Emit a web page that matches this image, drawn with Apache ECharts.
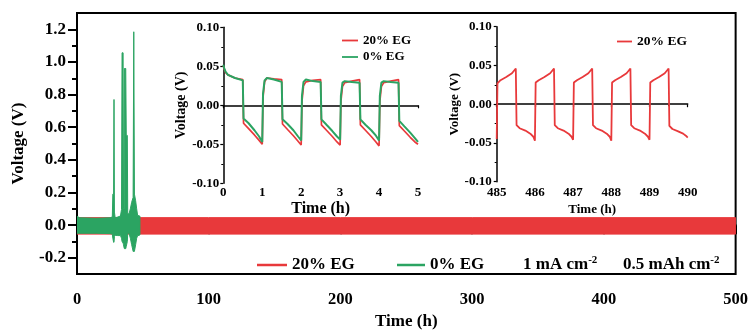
<!DOCTYPE html>
<html><head><meta charset="utf-8">
<script src="https://cdn.jsdelivr.net/npm/echarts@6/dist/echarts.min.js"></script>
<style>html,body{margin:0;padding:0;background:#fff}#c{width:751px;height:335px}</style>
</head><body><div id="c"></div>
<script>
// ---------- data ----------
// main panel: envelope (upper / lower extremes) of the dense charge-discharge trace
const redEnvTime  = [0, 100, 200, 300, 400, 500];
const redEnvUpper = [0.046, 0.046, 0.046, 0.046, 0.046, 0.046];
const redEnvLower = [-0.055, -0.055, -0.055, -0.055, -0.055, -0.055];

const greenEnvTime  = [0, 2, 15, 25, 26.8, 27.2, 27.8, 28.1, 28.4, 29.0, 31, 33, 33.8, 34.2, 35.0, 35.3, 35.8, 36.0, 37.0, 37.4, 38.2, 38.5, 39.5, 40.5, 41.5, 42.6, 43.1, 43.6, 44.5, 45.3, 46.0, 47.8];
const greenEnvUpper = [0.055, 0.045, 0.042, 0.045, 0.05, 0.19, 0.19, 0.77, 0.08, 0.045, 0.05, 0.056, 0.096, 1.056, 1.056, 0.1, 0.1, 0.96, 0.96, 0.55, 0.55, 0.068, 0.07, 0.1, 0.14, 0.17, 1.185, 0.19, 0.15, 0.1, 0.06, 0.055];
const greenEnvLower = [-0.05, -0.05, -0.05, -0.052, -0.055, -0.08, -0.105, -0.105, -0.07, -0.062, -0.064, -0.064, -0.08, -0.1, -0.11, -0.12, -0.14, -0.144, -0.144, -0.13, -0.1, -0.05, -0.05, -0.08, -0.12, -0.16, -0.164, -0.16, -0.12, -0.08, -0.065, -0.06];

const mainYLabels = [-0.2, 0.0, 0.2, 0.4, 0.6, 0.8, 1.0, 1.2];
const mainYMinor  = [-0.1, 0.1, 0.3, 0.5, 0.7, 0.9, 1.1];

// inset 1: 0-5 h
const inset1Time = [
  0, 0.02, 0.06, 0.12, 0.3, 0.5, 0.52, 0.65, 0.8, 0.92,
  1.0, 1.02, 1.06, 1.12, 1.3, 1.5, 1.52, 1.65, 1.8, 1.92,
  2.0, 2.02, 2.06, 2.12, 2.3, 2.5, 2.52, 2.65, 2.8, 2.92,
  3.0, 3.02, 3.06, 3.12, 3.3, 3.5, 3.52, 3.65, 3.8, 3.92,
  4.0, 4.02, 4.06, 4.12, 4.3, 4.5, 4.52, 4.65, 4.8, 4.92,
  5.0];
const inset1Red = [
  0.051, 0.047, 0.042, 0.039, 0.035, 0.033, -0.023, -0.030, -0.038, -0.045,
  -0.050, 0.010, 0.030, 0.035, 0.034, 0.033, -0.024, -0.031, -0.039, -0.046,
  -0.051, 0.005, 0.025, 0.030, 0.032, 0.033, -0.025, -0.032, -0.040, -0.047,
  -0.051, 0.005, 0.024, 0.029, 0.031, 0.033, -0.025, -0.032, -0.040, -0.047,
  -0.052, 0.005, 0.024, 0.029, 0.031, 0.033, -0.026, -0.033, -0.041, -0.047,
  -0.050];
const inset1Green = [
  0.052, 0.048, 0.043, 0.039, 0.035, 0.032, -0.017, -0.023, -0.032, -0.040,
  -0.047, 0.015, 0.032, 0.035, 0.033, 0.030, -0.018, -0.024, -0.032, -0.040,
  -0.045, 0.012, 0.030, 0.033, 0.031, 0.030, -0.018, -0.025, -0.033, -0.040,
  -0.044, 0.012, 0.029, 0.031, 0.030, 0.029, -0.018, -0.025, -0.032, -0.039,
  -0.045, 0.012, 0.029, 0.031, 0.030, 0.029, -0.020, -0.027, -0.035, -0.042,
  -0.047];

// inset 2: 485-490 h
const inset2Time = [
  485, 485.02, 485.1, 485.25, 485.4, 485.5, 485.52, 485.6, 485.75, 485.88, 485.96,
  486, 486.02, 486.1, 486.25, 486.4, 486.5, 486.52, 486.6, 486.75, 486.88, 486.96,
  487, 487.02, 487.1, 487.25, 487.4, 487.5, 487.52, 487.6, 487.75, 487.88, 487.96,
  488, 488.02, 488.1, 488.25, 488.4, 488.5, 488.52, 488.6, 488.75, 488.88, 488.96,
  489, 489.02, 489.1, 489.25, 489.4, 489.5, 489.52, 489.6, 489.75, 489.88, 489.96,
  490];
const inset2Red = [
  -0.045, 0.027, 0.031, 0.035, 0.040, 0.046, -0.027, -0.031, -0.034, -0.038, -0.042,
  -0.047, 0.028, 0.031, 0.035, 0.040, 0.046, -0.027, -0.031, -0.034, -0.038, -0.042,
  -0.046, 0.028, 0.031, 0.035, 0.040, 0.046, -0.027, -0.031, -0.034, -0.038, -0.042,
  -0.047, 0.028, 0.031, 0.035, 0.040, 0.046, -0.027, -0.031, -0.034, -0.038, -0.042,
  -0.046, 0.028, 0.031, 0.035, 0.040, 0.046, -0.028, -0.032, -0.035, -0.038, -0.041,
  -0.043];

// ---------- chart ----------
const RED = '#E8393B', GREEN = '#2BA462';
const FONT = '"Liberation Serif","Times New Roman",serif';
const zip = (a, b) => a.map((x, i) => [x, b[i]]);
const txt = (size) => ({ fontFamily: FONT, fontWeight: 'bold', fontSize: size, color: '#000' });

const chart = echarts.init(document.getElementById('c'), null, { renderer: 'canvas' });

// filled envelope band drawn through the axis scales
function bandSeries(name, time, upper, lower, color) {
  return {
    name, type: 'custom', xAxisIndex: 0, yAxisIndex: 0, silent: true, clip: true,
    itemStyle: { color }, color,
    data: time.map((t, i) => [t, lower[i], upper[i]]),
    encode: { x: 0, y: [1, 2] },
    renderItem: (params, api) => {
      if (params.dataIndex !== 0) return null;
      const pts = [];
      for (let i = 0; i < time.length; i++) pts.push(api.coord([time[i], upper[i]]));
      for (let i = time.length - 1; i >= 0; i--) pts.push(api.coord([time[i], lower[i]]));
      return { type: 'polygon', shape: { points: pts },
        style: { fill: color, stroke: color, lineWidth: 1, lineJoin: 'miter' } };
    }
  };
}

const axisLineMain = { show: true, lineStyle: { color: '#000', width: 2 } };
const axisLineInset = { show: true, lineStyle: { color: '#000', width: 1.5 } };

const option = {
  backgroundColor: '#fff',
  animation: false,
  grid: [
    { left: 77, right: 13.5, top: 13, bottom: 54, show: true, borderColor: '#000', borderWidth: 2, backgroundColor: 'transparent' },
    { left: 223.3, right: 333, top: 27.3, bottom: 151.7, show: true, borderWidth: 0, backgroundColor: '#fff' },
    { left: 496.7, right: 63.3, top: 26.7, bottom: 153.3, show: true, borderWidth: 0, backgroundColor: '#fff' }
  ],
  xAxis: [
    { gridIndex: 0, type: 'value', min: 0, max: 500, interval: 100,
      name: 'Time (h)', nameLocation: 'middle', nameGap: 34, nameTextStyle: txt(17),
      axisLine: axisLineMain, axisTick: { show: true, length: 9, lineStyle: { width: 2, color: '#000' } },
      minorTick: { show: true, splitNumber: 2, length: 5, lineStyle: { width: 2, color: '#000' } },
      axisLabel: Object.assign({ margin: 17 }, txt(16.5)), splitLine: { show: false } },
    { gridIndex: 1, type: 'value', min: 0, max: 5, interval: 1,
      name: 'Time (h)', nameLocation: 'middle', nameGap: 18, nameTextStyle: txt(16),
      axisLine: axisLineInset, axisTick: { show: true, length: 3, lineStyle: { width: 1.2, color: '#000' } },
      minorTick: { show: true, splitNumber: 2, length: 2, lineStyle: { width: 1, color: '#000' } },
      axisLabel: Object.assign({ margin: 3 }, txt(13)), splitLine: { show: false } },
    { gridIndex: 2, type: 'value', min: 485, max: 490, interval: 1,
      name: 'Time (h)', nameLocation: 'middle', nameGap: 21, nameTextStyle: txt(13),
      axisLine: axisLineInset, axisTick: { show: true, length: 3, lineStyle: { width: 1.2, color: '#000' } },
      minorTick: { show: true, splitNumber: 2, length: 2, lineStyle: { width: 1, color: '#000' } },
      axisLabel: Object.assign({ margin: 4 }, txt(13)), splitLine: { show: false } }
  ],
  yAxis: [
    { gridIndex: 0, type: 'value', position: 'left', min: -0.3, max: 1.3,
      name: 'Voltage (V)', nameLocation: 'middle', nameGap: 50, nameTextStyle: txt(17),
      axisLine: axisLineMain,
      axisTick: { show: true, length: 9, customValues: mainYLabels, lineStyle: { width: 2, color: '#000' } },
      axisLabel: Object.assign({ margin: 11, customValues: mainYLabels, formatter: v => v.toFixed(1) }, txt(17)),
      splitLine: { show: false } },
    { gridIndex: 0, type: 'value', position: 'left', offset: 0, min: -0.3, max: 1.3,
      axisLine: { show: false },
      axisTick: { show: true, length: 5, customValues: mainYMinor, lineStyle: { width: 2, color: '#000' } },
      axisLabel: { show: false }, splitLine: { show: false } },
    { gridIndex: 1, type: 'value', min: -0.1, max: 0.1, interval: 0.05,
      name: 'Voltage (V)', nameLocation: 'middle', nameGap: 35, nameTextStyle: txt(14),
      axisLine: axisLineInset, axisTick: { show: true, length: 3, lineStyle: { width: 1.2, color: '#000' } },
      minorTick: { show: true, splitNumber: 2, length: 2, lineStyle: { width: 1, color: '#000' } },
      axisLabel: Object.assign({ margin: 4, formatter: v => v.toFixed(2) }, txt(13)), splitLine: { show: false } },
    { gridIndex: 2, type: 'value', min: -0.1, max: 0.1, interval: 0.05,
      name: 'Voltage (V)', nameLocation: 'middle', nameGap: 35, nameTextStyle: txt(13),
      axisLine: axisLineInset, axisTick: { show: true, length: 3, lineStyle: { width: 1.2, color: '#000' } },
      minorTick: { show: true, splitNumber: 2, length: 2, lineStyle: { width: 1, color: '#000' } },
      axisLabel: Object.assign({ margin: 5, formatter: v => v.toFixed(2) }, txt(13)), splitLine: { show: false } }
  ],
  legend: [
    { left: 257, top: 256.5, padding: 0, selectedMode: false, itemWidth: 30, itemHeight: 2.5,
      data: [{ name: '20% EG', icon: 'rect' }], textStyle: txt(17) },
    { left: 397, top: 256.5, padding: 0, selectedMode: false, itemWidth: 28, itemHeight: 2.5,
      data: [{ name: '0% EG', icon: 'rect' }], textStyle: txt(17) },
    { left: 342, top: 34, padding: 0, orient: 'vertical', selectedMode: false, itemWidth: 16, itemHeight: 1.8, itemGap: 3.5,
      data: [{ name: '20% EG', icon: 'rect' }, { name: '0% EG', icon: 'rect' }], textStyle: txt(13) },
    { left: 617, top: 34.5, padding: 0, selectedMode: false, itemWidth: 15, itemHeight: 1.8,
      data: [{ name: '20% EG', icon: 'rect' }], textStyle: txt(13.5) }
  ],
  graphic: [
    { type: 'text', left: 523, top: 255, style: {
        text: '{b|1 mA cm}{s|-2}', rich: {
          b: { fontFamily: FONT, fontWeight: 'bold', fontSize: 17, fill: '#000', lineHeight: 20 },
          s: { fontFamily: FONT, fontWeight: 'bold', fontSize: 11, fill: '#000', verticalAlign: 'top', lineHeight: 12 } } } },
    { type: 'text', left: 623, top: 255, style: {
        text: '{b|0.5 mAh cm}{s|-2}', rich: {
          b: { fontFamily: FONT, fontWeight: 'bold', fontSize: 17, fill: '#000', lineHeight: 20 },
          s: { fontFamily: FONT, fontWeight: 'bold', fontSize: 11, fill: '#000', verticalAlign: 'top', lineHeight: 12 } } } }
  ],
  series: [
    bandSeries('20% EG', redEnvTime, redEnvUpper, redEnvLower, RED),
    bandSeries('0% EG', greenEnvTime, greenEnvUpper, greenEnvLower, GREEN),
    // inset 1
    { name: '20% EG', type: 'line', xAxisIndex: 1, yAxisIndex: 2, data: zip(inset1Time, inset1Red),
      symbol: 'none', silent: true, lineStyle: { color: RED, width: 1.7 }, color: RED },
    { name: '0% EG', type: 'line', xAxisIndex: 1, yAxisIndex: 2, data: zip(inset1Time, inset1Green),
      symbol: 'none', silent: true, lineStyle: { color: GREEN, width: 2 }, color: GREEN },
    // inset 2
    { name: '20% EG', type: 'line', xAxisIndex: 2, yAxisIndex: 3, data: zip(inset2Time, inset2Red),
      symbol: 'none', silent: true, lineStyle: { color: RED, width: 1.8 }, color: RED }
  ]
};
chart.setOption(option);
</script>
</body></html>
